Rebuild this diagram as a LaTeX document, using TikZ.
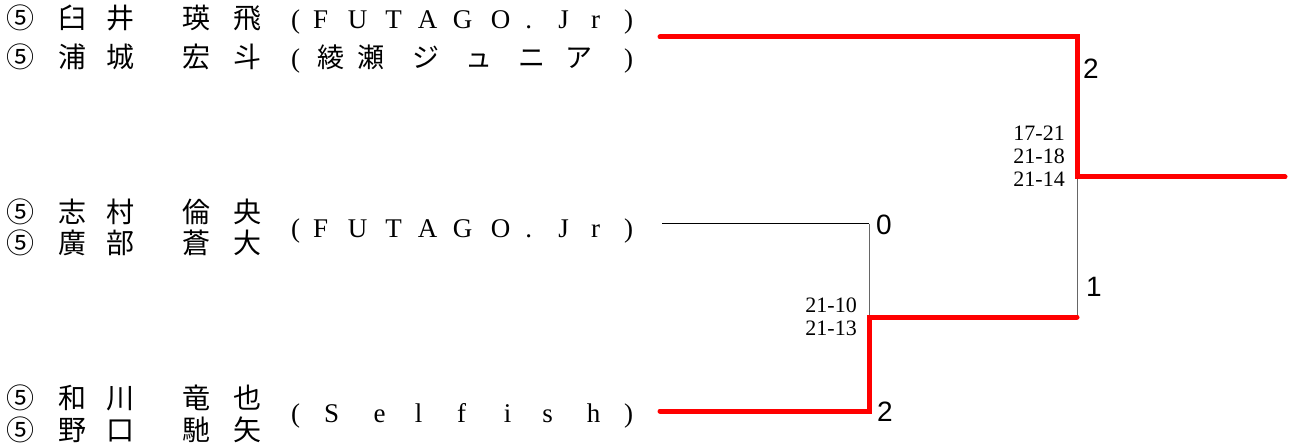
\documentclass[tikz,border=0pt]{standalone}
\usepackage{fontspec}
\setmainfont{Liberation Serif}
\newfontfamily\jp{Noto Sans CJK JP}
\newfontfamily\lsans{Liberation Sans}
% place a character centred at horizontal offset #1 from the node's left edge
\newcommand{\pc}[2]{\rlap{\hspace*{#1}\makebox[0pt]{#2}}}
\newcommand{\nm}[5]{{\jp\pc{20pt}{#1}\pc{72pt}{#2}\pc{120pt}{#3}\pc{196pt}{#4}\pc{247pt}{#5}}}
\begin{document}
\begin{tikzpicture}[x=1pt,y=-1pt,
  namestyle/.style={anchor=base west,inner sep=0pt,font=\fontsize{28}{30}\selectfont},
  teamstyle/.style={anchor=base west,inner sep=0pt,font=\fontsize{27}{30}\selectfont},
  win/.style={draw=red,line width=5pt,line cap=round,line join=miter},
  thinb/.style={draw=black,line width=1pt},
  thing/.style={draw=black!60,line width=1pt},
  pts/.style={inner sep=0pt,font=\lsans\fontsize{28}{30}\selectfont},
  score/.style={inner sep=0pt,anchor=east,align=right,font=\fontsize{22}{23}\selectfont}]
\useasboundingbox (0,0) rectangle (1289,446);
% names
\node[namestyle] (n1a) at (0,29) {\nm{⑤}{臼}{井}{瑛}{飛}};
\node[namestyle] (n1b) at (0,68) {\nm{⑤}{浦}{城}{宏}{斗}};
\node[namestyle] (n2a) at (0,223) {\nm{⑤}{志}{村}{倫}{央}};
\node[namestyle] (n2b) at (0,254) {\nm{⑤}{廣}{部}{蒼}{大}};
\node[namestyle] (n3a) at (0,408) {\nm{⑤}{和}{川}{竜}{也}};
\node[namestyle] (n3b) at (0,440) {\nm{⑤}{野}{口}{馳}{矢}};
% teams
\node[teamstyle] (t1a) at (0,29) {\pc{295pt}{(}\pc{320pt}{F}\pc{357pt}{U}\pc{393pt}{T}\pc{427pt}{A}\pc{462pt}{G}\pc{500pt}{O}\pc{528pt}{.}\pc{563pt}{J}\pc{595pt}{r}\pc{628pt}{)}};
\node[teamstyle] (t1b) at (0,68) {\pc{295pt}{(}\pc{330pt}{\jp 綾}\pc{370pt}{\jp 瀬}\pc{425pt}{\jp ジ}\pc{478pt}{\jp ュ}\pc{531pt}{\jp ニ}\pc{578pt}{\jp ア}\pc{628pt}{)}};
\node[teamstyle] (t2) at (0,237) {\pc{295pt}{(}\pc{320pt}{F}\pc{357pt}{U}\pc{393pt}{T}\pc{427pt}{A}\pc{462pt}{G}\pc{500pt}{O}\pc{528pt}{.}\pc{563pt}{J}\pc{595pt}{r}\pc{628pt}{)}};
\node[teamstyle] (t3) at (0,422) {\pc{295pt}{(}\pc{331pt}{S}\pc{379pt}{e}\pc{418pt}{l}\pc{461pt}{f}\pc{507pt}{i}\pc{547pt}{s}\pc{593pt}{h}\pc{628pt}{)}};
% bracket coordinates
\coordinate (e1) at (660,37);
\coordinate (e2) at (662,224);
\coordinate (e3) at (660,411);
\coordinate (j1) at (869,317);
\coordinate (r1) at (1077,317);
\coordinate (f) at (1077,177);
\coordinate (fo) at (1285,177);
% thin lines
\draw[thinb] (e2) -- (869,224);
\draw[thing] (869,224) -- (j1);
\draw[thing] (r1) -- (f);
% winner paths
\draw[win] (e3) -| (j1) -- (r1);
\draw[win] (e1) -| (f) -- (fo);
% points
\node[pts] (p1) at (1091,69) {2};
\node[pts] (p2) at (884,225) {0};
\node[pts] (p3) at (885,412) {2};
\node[pts] (p4) at (1094,287) {1};
% scores
\node[score] (s1) at (857,317) {21-10\\21-13};
\node[score] (s2) at (1065,156) {17-21\\21-18\\21-14};
\end{tikzpicture}
\end{document}
